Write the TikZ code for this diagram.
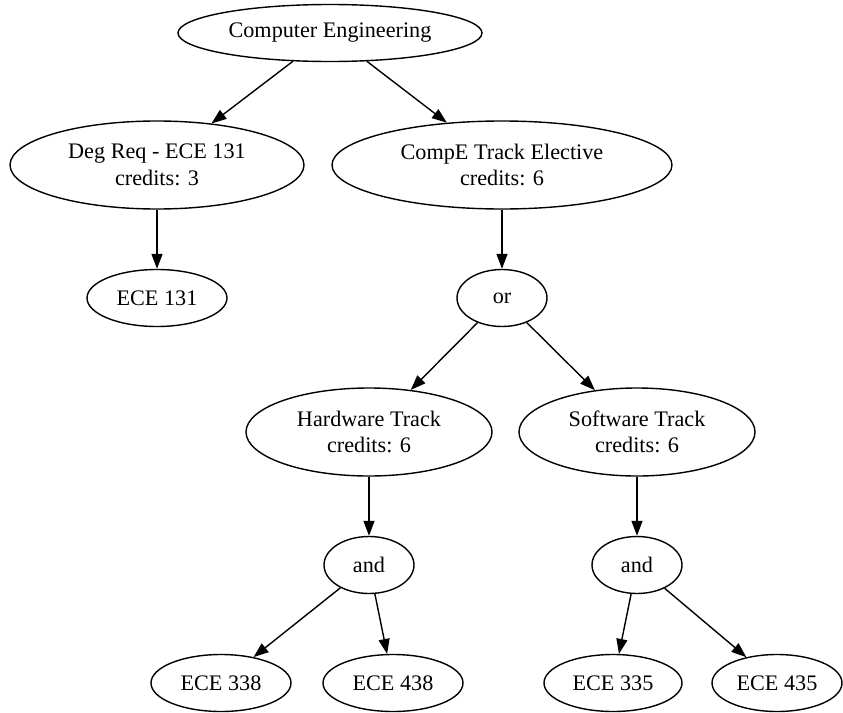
\documentclass[tikz,border=0pt]{standalone}
\usepackage{fontspec}
\setmainfont{Liberation Serif}
\usetikzlibrary{shapes.geometric,arrows.meta}

\tikzset{
  base/.style={draw, ellipse, line width=1.4pt, inner sep=0pt, align=center,
    font=\fontsize{22.2}{26.5}\selectfont},
  one/.style={base, minimum height=57pt},
  two/.style={base, minimum height=88pt},
  link/.style={line width=1.4pt, -{Triangle[length=15pt,width=11pt]}}
}

\begin{document}
\begin{tikzpicture}[x=1pt,y=-1pt]
\useasboundingbox (0,0) rectangle (843,712);

% rank 1
\node[one, minimum width=304pt] (ce) at (330,33) {Computer Engineering};
% rank 2
\node[two, minimum width=294pt] (deg) at (157,165) {Deg Req - ECE 131\\credits: 3};
\node[two, minimum width=340pt] (cte) at (502,165) {CompE Track Elective\\credits: 6};
% rank 3
\node[one, minimum width=140pt] (e131) at (157,298) {ECE 131};
\node[one, minimum width=90pt] (or) at (502,298) {or};
% rank 4
\node[two, minimum width=246pt] (hw) at (369,432) {Hardware Track\\credits: 6};
\node[two, minimum width=236pt] (sw) at (637,432) {Software Track\\credits: 6};
% rank 5
\node[one, minimum width=90pt] (andh) at (369,565) {and};
\node[one, minimum width=90pt] (ands) at (637,565) {and};
% rank 6
\node[one, minimum width=140pt] (e338) at (221,683) {ECE 338};
\node[one, minimum width=140pt] (e438) at (393,683) {ECE 438};
\node[one, minimum width=138pt] (e335) at (613,683) {ECE 335};
\node[one, minimum width=130pt] (e435) at (777,683) {ECE 435};

% connectors
\draw[link] (ce) -- (deg);
\draw[link] (ce) -- (cte);
\draw[link] (deg) -- (e131);
\draw[link] (cte) -- (or);
\draw[link] (or) -- (hw);
\draw[link] (or) -- (sw);
\draw[link] (hw) -- (andh);
\draw[link] (sw) -- (ands);
\draw[link] (andh) -- (e338);
\draw[link] (andh) -- (e438);
\draw[link] (ands) -- (e335);
\draw[link] (ands) -- (e435);
\end{tikzpicture}
\end{document}
